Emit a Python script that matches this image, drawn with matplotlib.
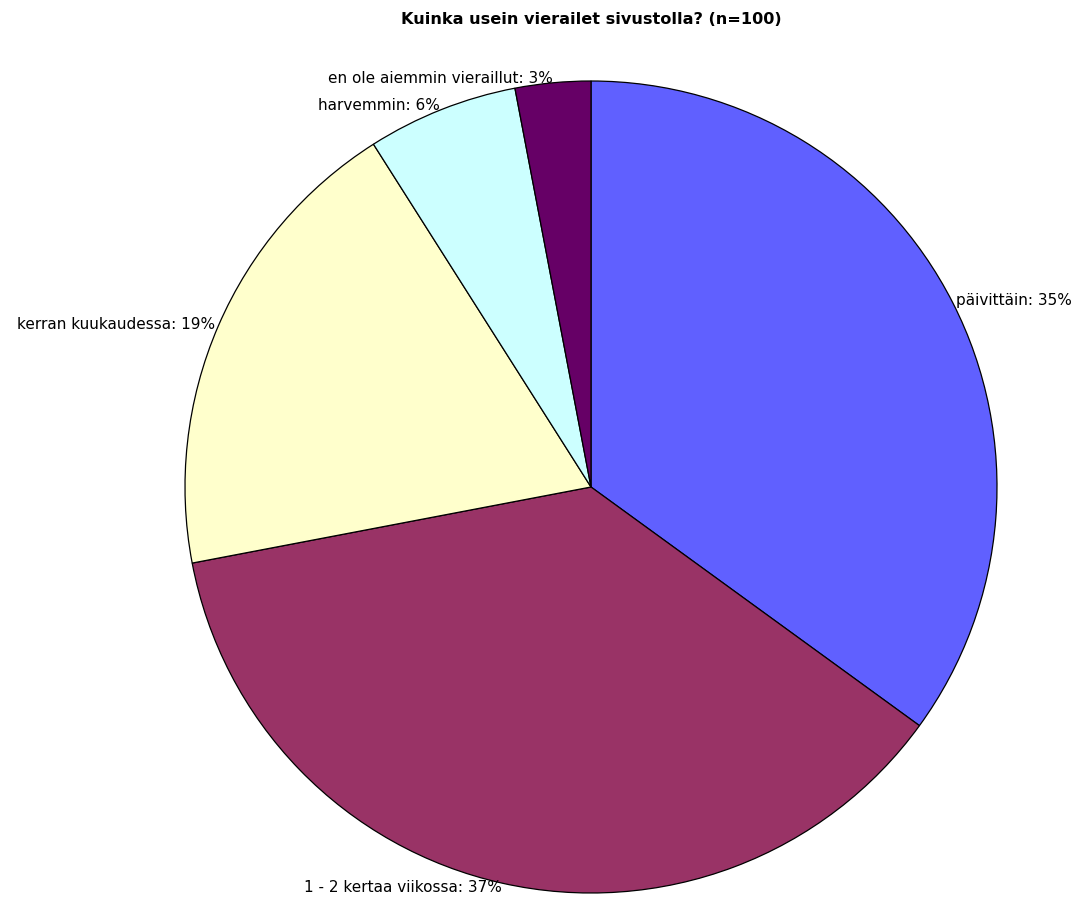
import matplotlib
matplotlib.use("Agg")
import matplotlib.pyplot as plt

# Survey data: how often do you visit the site (n=100)
labels = ["päivittäin", "1 - 2 kertaa viikossa", "kerran kuukaudessa",
          "harvemmin", "en ole aiemmin vieraillut"]
values = [35, 37, 19, 6, 3]
colors = ["#6060FF", "#993366", "#FFFFCC", "#CCFFFF", "#660066"]

W, H = 1073, 906
cx, cy, r = 591, 487, 406

plt.rcParams["font.family"] = ["DejaVu Sans"]
fig = plt.figure(figsize=(W / 100, H / 100), dpi=100)
ax = fig.add_axes([(cx - r) / W, (H - cy - r) / H, 2 * r / W, 2 * r / H])

text_labels = [f"{l}: {v}%" for l, v in zip(labels, values)]
wedges, texts = ax.pie(values, labels=text_labels, colors=colors,
                       startangle=90, counterclock=False, labeldistance=1.01,
                       wedgeprops=dict(edgecolor="black", linewidth=0.9),
                       textprops=dict(fontsize=11, color="black"))
ax.set_xlim(-1, 1)
ax.set_ylim(-1, 1)

fig.text(cx / W, 1 - 20 / H, "Kuinka usein vierailet sivustolla? (n=100)",
         ha="center", va="center", fontsize=11.6, fontweight="bold")

fig.savefig("out.png", dpi=100)
